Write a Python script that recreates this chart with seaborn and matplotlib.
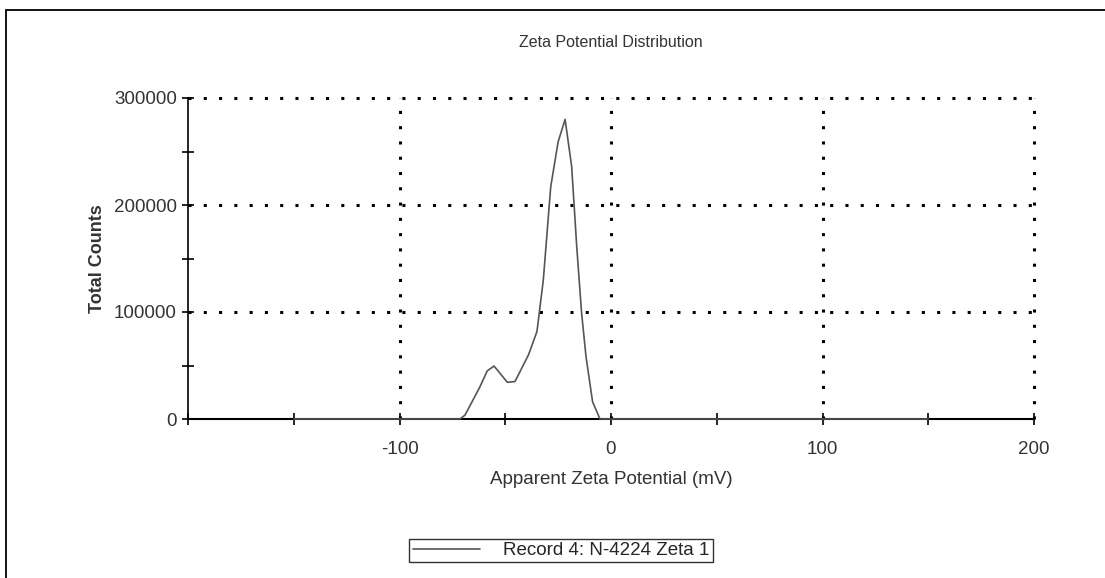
import matplotlib
matplotlib.use("Agg")
import matplotlib.pyplot as plt
import seaborn as sns
import pandas as pd
from matplotlib.patches import Rectangle
from matplotlib.ticker import MultipleLocator

# zeta potential (mV) and total counts
zeta = [-150, -71.4, -69, -62, -58.5, -55.3, -49, -45.4, -39, -35, -32,
        -28.5, -25, -21.7, -18.6, -16.2, -13.9, -11.8, -8.7, -5.2, 150]
counts = [0, 0, 3700, 30000, 45000, 49500, 34300, 35000, 60000, 81800, 130000,
          217000, 259000, 280000, 236000, 161000, 99000, 58000, 16000, 0, 0]
record = "Record 4: N-4224 Zeta 1"

df = pd.DataFrame({"zeta": zeta, "counts": counts})

sns.set_style("white")
plt.rcParams["font.family"] = ["Liberation Sans", "DejaVu Sans"]
plt.rcParams["axes.unicode_minus"] = False

fig = plt.figure(figsize=(11.05, 5.78), dpi=100)
ax = fig.add_axes([188 / 1105, 1 - 419 / 578, (1034 - 188) / 1105, (419 - 98) / 578])

sns.lineplot(data=df, x="zeta", y="counts", ax=ax, color="#555555",
             linewidth=1.2, label=record)
# baseline part of the curve sits on the x axis and looks heavier there
ax.lines[0].set_clip_on(False)
ax.lines[0].set_zorder(3)

ax.set_xlim(-200, 200)
ax.set_ylim(0, 300000)
ax.xaxis.set_major_locator(MultipleLocator(100))
ax.xaxis.set_minor_locator(MultipleLocator(50))
ax.yaxis.set_major_locator(MultipleLocator(100000))
ax.yaxis.set_minor_locator(MultipleLocator(50000))
ax.tick_params(which="both", direction="inout", color="black", width=1.2,
               length=9, labelsize=13.5, labelcolor="#333333",
               bottom=True, left=True)
ax.tick_params(axis="x", which="major", pad=11)
ax.set_xticks([-200, -100, 0, 100, 200])
ax.set_xticklabels(["", "-100", "0", "100", "200"])

for s in ["top", "right"]:
    ax.spines[s].set_visible(False)
ax.spines["left"].set_color("black")
ax.spines["left"].set_linewidth(1.2)
ax.spines["bottom"].set_color("black")
ax.spines["bottom"].set_linewidth(1.5)

ax.grid(True, which="major", color="black", linestyle=(0, (1, 4)), linewidth=2.2)
for val, gl in zip(ax.get_xticks(), ax.get_xgridlines()):
    gl.set_clip_on(False)
    if val == -200:
        gl.set_visible(False)
for val, gl in zip(ax.get_yticks(), ax.get_ygridlines()):
    gl.set_clip_on(False)
    if val == 0:
        gl.set_visible(False)

ax.set_title("Zeta Potential Distribution", fontsize=11.5, color="#333333", pad=37)
ax.set_xlabel("Apparent Zeta Potential (mV)", fontsize=13.5, color="#333333", labelpad=10)
ax.set_ylabel("Total Counts", fontsize=13, fontweight="bold", color="#333333", labelpad=6)

ax.get_legend().remove()
leg = fig.legend(loc="center", bbox_to_anchor=(561 / 1105, 1 - 550.5 / 578),
                 frameon=True, fancybox=False, fontsize=13.5, handlelength=3.6,
                 borderpad=0.18, handletextpad=1.2, borderaxespad=0)
leg.get_frame().set_edgecolor("black")
leg.get_frame().set_linewidth(1.0)

# outer frame of the report page
fig.add_artist(Rectangle((6 / 1105, -0.1), 1.2, 1.1 - 10 / 578,
                         transform=fig.transFigure, fill=False,
                         edgecolor="black", linewidth=1.3))

fig.savefig("out.png", dpi=100)
